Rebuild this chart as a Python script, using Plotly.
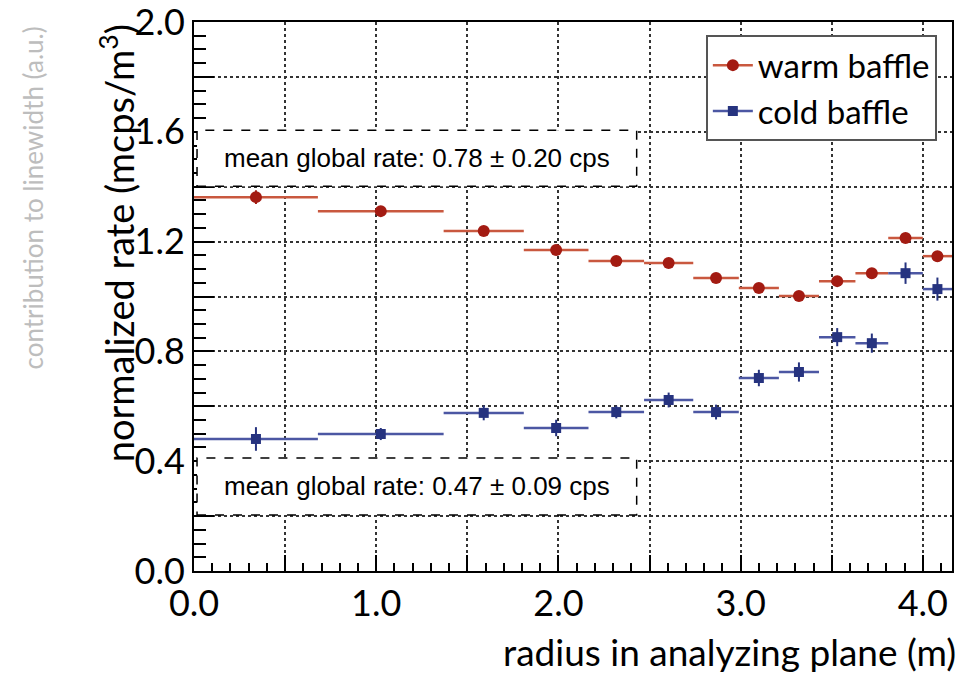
import plotly.graph_objects as go

# ---------------- data ----------------
bin_lo = [0.00, 0.68, 1.37, 1.81, 2.165, 2.47, 2.74, 2.99, 3.21, 3.43, 3.63, 3.81, 4.00]
bin_hi = [0.68, 1.37, 1.81, 2.165, 2.47, 2.74, 2.99, 3.21, 3.43, 3.63, 3.81, 4.00, 4.16]

warm_rate = [1.362, 1.311, 1.239, 1.169, 1.129, 1.122, 1.067, 1.031, 1.002, 1.056, 1.085, 1.213, 1.147]
warm_err = [0.025, 0.012, 0.012, 0.012, 0.012, 0.012, 0.012, 0.012, 0.012, 0.012, 0.012, 0.012, 0.012]

cold_rate = [0.481, 0.499, 0.576, 0.521, 0.579, 0.623, 0.579, 0.703, 0.725, 0.852, 0.830, 1.085, 1.027]
cold_err = [0.043, 0.022, 0.027, 0.030, 0.023, 0.027, 0.027, 0.030, 0.035, 0.033, 0.035, 0.039, 0.042]

series_names = ["warm baffle", "cold baffle"]
box_texts = ["mean global rate: 0.78 \u00b1 0.20 cps", "mean global rate: 0.47 \u00b1 0.09 cps"]

x_tickvals = [0.0, 0.5, 1.0, 1.5, 2.0, 2.5, 3.0, 3.5, 4.0]
y_tickvals = [0.0, 0.2, 0.4, 0.6, 0.8, 1.0, 1.2, 1.4, 1.6, 1.8, 2.0]

# ---------------- derived ----------------
centers = [(a + b) / 2 for a, b in zip(bin_lo, bin_hi)]
half_plus = [b - c for b, c in zip(bin_hi, centers)]
half_minus = [c - a for a, c in zip(bin_lo, centers)]

WARM_M = "#A31B12"
WARM_L = "#C9583F"
COLD_M = "#26337F"
COLD_L = "#4C57A3"

fig = go.Figure()

fig.add_trace(go.Scatter(
    x=centers, y=warm_rate, mode="markers", showlegend=False,
    marker=dict(symbol="circle", size=12, color=WARM_M),
    error_x=dict(type="data", symmetric=False, array=half_plus, arrayminus=half_minus,
                 color=WARM_L, thickness=2.5, width=0),
    error_y=dict(type="data", array=warm_err, color=WARM_M, thickness=2, width=0),
))
fig.add_trace(go.Scatter(
    x=centers, y=cold_rate, mode="markers", showlegend=False,
    marker=dict(symbol="square", size=10, color=COLD_M),
    error_x=dict(type="data", symmetric=False, array=half_plus, arrayminus=half_minus,
                 color=COLD_L, thickness=2.5, width=0),
    error_y=dict(type="data", array=cold_err, color=COLD_M, thickness=2, width=0),
))

# legend entries
fig.add_trace(go.Scatter(x=[None], y=[None], mode="lines+markers", name=series_names[0],
                         marker=dict(symbol="circle", size=12, color=WARM_M),
                         line=dict(color=WARM_L, width=2.5)))
fig.add_trace(go.Scatter(x=[None], y=[None], mode="lines+markers", name=series_names[1],
                         marker=dict(symbol="square", size=10, color=COLD_M),
                         line=dict(color=COLD_L, width=2.5)))

FONT = "Lato, 'Open Sans', sans-serif"

fig.update_layout(
    width=961, height=676,
    margin=dict(l=194, r=9, t=22, b=105),
    paper_bgcolor="white", plot_bgcolor="white",
    font=dict(family=FONT, color="black"),
    legend=dict(x=0.980, y=0.976, xanchor="right", yanchor="top",
                bgcolor="white", bordercolor="#555555", borderwidth=2,
                font=dict(size=33, family=FONT, color="black"),
                itemwidth=40, tracegroupgap=0),
)

fig.update_xaxes(
    range=[0, 4.16], showline=True, linecolor="black", linewidth=2, mirror=True,
    automargin=False,
    tickmode="array", tickvals=x_tickvals,
    ticktext=["%.1f" % v if abs(v - round(v)) < 1e-9 else "" for v in x_tickvals],
    ticks="inside", ticklen=16, tickwidth=1.5, tickcolor="black",
    tickfont=dict(size=36, family=FONT),
    showgrid=True, gridcolor="#333333", gridwidth=1.5, griddash="dot",
    zeroline=False,
    minor=dict(dtick=0.1, tick0=0, ticks="inside", ticklen=8, tickwidth=1.5,
               tickcolor="black", showgrid=False),
)
fig.update_yaxes(
    range=[0, 2.0], showline=True, linecolor="black", linewidth=2, mirror=True,
    automargin=False,
    tickmode="array", tickvals=y_tickvals,
    ticktext=["%.1f" % v if round(v / 0.2) % 2 == 0 else "" for v in y_tickvals],
    ticks="inside", ticklen=20, tickwidth=1.5, tickcolor="black",
    tickfont=dict(size=36, family=FONT), ticklabeloverflow="allow",
    showgrid=True, gridcolor="#333333", gridwidth=1.5, griddash="dot",
    zeroline=False,
    minor=dict(dtick=0.05, tick0=0, ticks="inside", ticklen=12, tickwidth=1.5,
               tickcolor="black", showgrid=False),
)

# dashed text boxes
box_rows = [(0.701, 0.803), (0.102, 0.206)]
for (y0, y1), txt in zip(box_rows, box_texts):
    fig.add_shape(type="rect", xref="paper", yref="paper", x0=0.004, x1=0.584, y0=y0, y1=y1,
                  line=dict(color="black", width=1.5, dash="dash"), fillcolor="white", layer="above")
    fig.add_annotation(xref="paper", yref="paper", x=0.294, y=(y0 + y1) / 2,
                       text=txt, showarrow=False, xanchor="center", yanchor="middle",
                       font=dict(family="'Liberation Sans', Arial, sans-serif", size=26, color="black"))

# axis titles
fig.add_annotation(xref="paper", yref="paper", x=-0.1016, y=0.597, textangle=-90,
                   text="normalized rate (mcps/m<sup>3</sup>)", showarrow=False,
                   xanchor="center", yanchor="middle", font=dict(size=38, family=FONT, color="black"))
fig.add_annotation(xref="paper", yref="paper", x=1.008, y=-0.146,
                   text="radius in analyzing plane (m)", showarrow=False,
                   xanchor="right", yanchor="middle", font=dict(size=37, family=FONT, color="black"))
# faint neighbouring-panel label
fig.add_annotation(xref="paper", yref="paper", x=-0.212, y=0.679, textangle=-90,
                   text="contribution to linewidth (a.u.)", showarrow=False,
                   xanchor="center", yanchor="middle", font=dict(size=26, family=FONT, color="#BDBDBD"))

fig.write_html("out.html", config={"displayModeBar": False},
               post_script="document.body.style.margin='0';document.body.style.overflow='hidden';")
